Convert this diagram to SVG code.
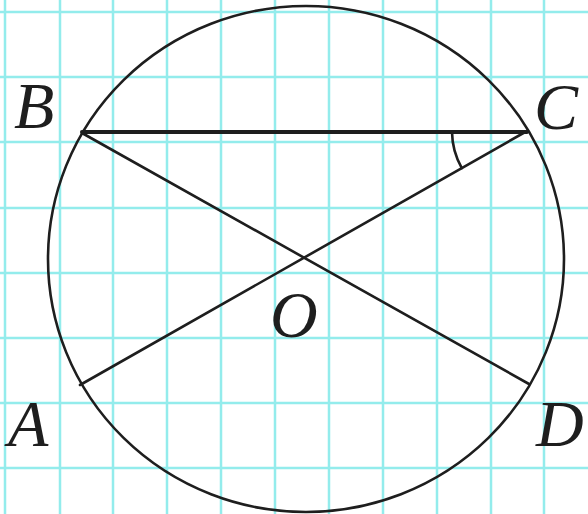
<svg xmlns="http://www.w3.org/2000/svg" width="588" height="514" viewBox="0 0 588 514">
<style>
.grid line{stroke:#93ecec;stroke-width:2.5}
.ln{stroke:#1e1e1e;stroke-width:2.6;fill:none;stroke-linecap:round}
.lbl{font-family:"Liberation Serif","Times New Roman",serif;font-style:italic;font-size:66px;fill:#1e1e1e}
</style>
<rect width="588" height="514" fill="#ffffff"/>
<g class="grid">
<line x1="5" y1="0" x2="5" y2="514"/>
<line x1="60" y1="0" x2="60" y2="514"/>
<line x1="113" y1="0" x2="113" y2="514"/>
<line x1="167" y1="0" x2="167" y2="514"/>
<line x1="221" y1="0" x2="221" y2="514"/>
<line x1="275" y1="0" x2="275" y2="514"/>
<line x1="329" y1="0" x2="329" y2="514"/>
<line x1="383" y1="0" x2="383" y2="514"/>
<line x1="437" y1="0" x2="437" y2="514"/>
<line x1="491" y1="0" x2="491" y2="514"/>
<line x1="544" y1="0" x2="544" y2="514"/>
<line x1="0" y1="12" x2="588" y2="12"/>
<line x1="0" y1="77" x2="588" y2="77"/>
<line x1="0" y1="142" x2="588" y2="142"/>
<line x1="0" y1="208" x2="588" y2="208"/>
<line x1="0" y1="273" x2="588" y2="273"/>
<line x1="0" y1="338" x2="588" y2="338"/>
<line x1="0" y1="403" x2="588" y2="403"/>
<line x1="0" y1="468" x2="588" y2="468"/>
</g>
<g id="circle">
<ellipse class="ln" cx="306" cy="259" rx="258" ry="253"/>
</g>
<g id="connectors">
<line class="ln" x1="82" y1="132" x2="527" y2="132" style="stroke-width:4"/>
<line class="ln" x1="82" y1="133" x2="529" y2="384"/>
<line class="ln" x1="80" y1="385" x2="527" y2="131"/>
<path class="ln" d="M452,132 A75 75 0 0 0 461.8,168.1"/>
</g>
<g id="labels">
<text class="lbl" x="14" y="128">B</text>
<text class="lbl" x="534" y="129">C</text>
<text class="lbl" x="8" y="446">A</text>
<text class="lbl" x="536" y="446">D</text>
<text class="lbl" x="270" y="337">O</text>
</g>
</svg>
